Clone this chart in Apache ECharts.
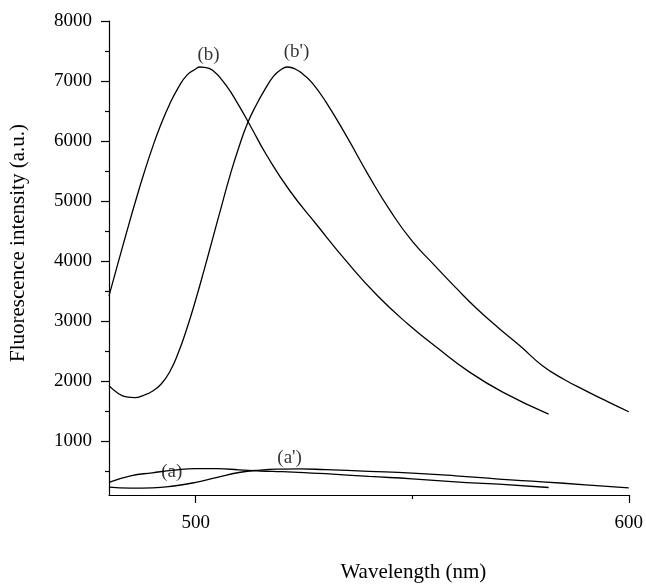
<!DOCTYPE html>
<html>
<head>
<meta charset="utf-8">
<script src="https://cdn.jsdelivr.net/npm/echarts@6/dist/echarts.min.js"></script>
<style>
  html, body { margin: 0; padding: 0; background: #fff; }
  #chart { width: 646px; height: 588px; }
</style>
</head>
<body>
<div id="chart"></div>
<script>
// spectra: [wavelength nm, intensity a.u.]
const curveB = [
  [480, 3420], [482, 3944], [484, 4462], [486, 4966], [488, 5446],
  [490, 5886], [492, 6278], [494, 6614], [496, 6890], [498, 7098],
  [500, 7200], [501, 7233], [502, 7228], [504, 7175], [507, 6930],
  [510, 6590], [513, 6205], [516.3, 5775], [521.7, 5175], [528, 4600],
  [535, 3980], [542, 3420], [549, 2950], [556, 2540], [563, 2160],
  [571, 1810], [581.5, 1447]
];
const curveB2 = [
  [480, 1923], [482, 1800], [484, 1735], [486, 1722], [488, 1762],
  [490, 1830], [492, 1945], [494, 2150], [496, 2470], [498, 2880],
  [500, 3350], [502, 3860], [504, 4390], [506, 4920], [508, 5440],
  [510, 5900], [512, 6300], [514, 6600], [516, 6860], [518, 7080],
  [519.5, 7180], [521.2, 7233], [523, 7200], [525, 7100], [527, 6960],
  [530, 6660], [535, 6060], [540, 5420], [545, 4830], [550, 4330],
  [555, 3940], [560, 3560], [565, 3200], [570, 2880], [575, 2580],
  [580, 2260], [585, 2030], [590, 1840], [595, 1660], [600, 1487]
];
const curveA = [
  [480, 312], [485, 420], [490, 470], [495, 515], [500, 540], [505, 538],
  [510, 520], [515, 500], [520, 488], [525, 472], [530, 455], [540, 410],
  [550, 370], [560, 320], [570, 280], [581.5, 225]
];
const curveA2 = [
  [480, 230], [485, 214], [490, 218], [495, 250], [500, 310], [505, 395],
  [510, 475], [515, 515], [520, 532], [524, 536], [530, 522], [540, 495],
  [550, 465], [560, 420], [570, 365], [580, 320], [590, 270], [600, 220]
];
const curveLabels = [
  [494.5, 490, '(a)'], [521.7, 721, "(a')"],
  [503, 7425, '(b)'], [523.3, 7475, "(b')"]
];
const xLabelTicks = [500, 600];
const xMinorTicks = [550];
const yLabelTicks = [1000, 2000, 3000, 4000, 5000, 6000, 7000, 8000];
const yMinorTicks = [500, 1500, 2500, 3500, 4500, 5500, 6500, 7500];

const font = 'Liberation Serif';
const axisLine = { show: true, lineStyle: { color: '#000', width: 1.2 } };

function lineSeries(data) {
  return {
    type: 'line', data: data, smooth: 0.5, symbol: 'none',
    lineStyle: { color: '#000', width: 1.3 }, silent: true, z: 3
  };
}

const chart = echarts.init(document.getElementById('chart'));
chart.setOption({
  animation: false,
  backgroundColor: '#fff',
  grid: { left: 109, right: 16, top: 21, bottom: 85 },
  xAxis: [
    {
      type: 'value', min: 480, max: 600,
      name: 'Wavelength (nm)', nameLocation: 'middle', nameGap: 67,
      nameTextStyle: { fontFamily: font, fontSize: 21, color: '#000', padding: [0, 0, 0, 89] },
      axisLine: axisLine,
      axisTick: { show: true, inside: false, length: 8, customValues: xLabelTicks, lineStyle: { color: '#000', width: 1.2 } },
      axisLabel: { customValues: xLabelTicks, fontFamily: font, fontSize: 19, color: '#000', margin: 19 },
      splitLine: { show: false }
    },
    {
      type: 'value', min: 480, max: 600, position: 'bottom',
      axisLine: { show: false },
      axisTick: { show: true, length: 4, customValues: xMinorTicks, lineStyle: { color: '#000', width: 1.2 } },
      axisLabel: { show: false },
      splitLine: { show: false }
    }
  ],
  yAxis: [
    {
      type: 'value', min: 100, max: 8000,
      name: 'Fluorescence intensity (a.u.)', nameLocation: 'middle', nameGap: 80,
      nameTextStyle: { fontFamily: font, fontSize: 21, color: '#000', padding: [0, 0, 0, 30] },
      axisLine: axisLine,
      axisTick: { show: true, length: 8, customValues: yLabelTicks, lineStyle: { color: '#000', width: 1.2 } },
      axisLabel: { customValues: yLabelTicks, formatter: v => String(v), fontFamily: font, fontSize: 19, color: '#000', margin: 17 },
      splitLine: { show: false }
    },
    {
      type: 'value', min: 100, max: 8000, position: 'left',
      axisLine: { show: false },
      axisTick: { show: true, length: 4, customValues: yMinorTicks, lineStyle: { color: '#000', width: 1.2 } },
      axisLabel: { show: false },
      splitLine: { show: false }
    }
  ],
  series: [
    lineSeries(curveB),
    lineSeries(curveB2),
    lineSeries(curveA),
    lineSeries(curveA2),
    {
      type: 'scatter', symbolSize: 0, silent: true, z: 4,
      data: curveLabels.map(d => ({ value: [d[0], d[1]], name: d[2] })),
      label: {
        show: true, position: 'inside', formatter: p => p.name,
        fontFamily: font, fontSize: 19, color: '#000'
      }
    }
  ]
});
</script>
</body>
</html>
